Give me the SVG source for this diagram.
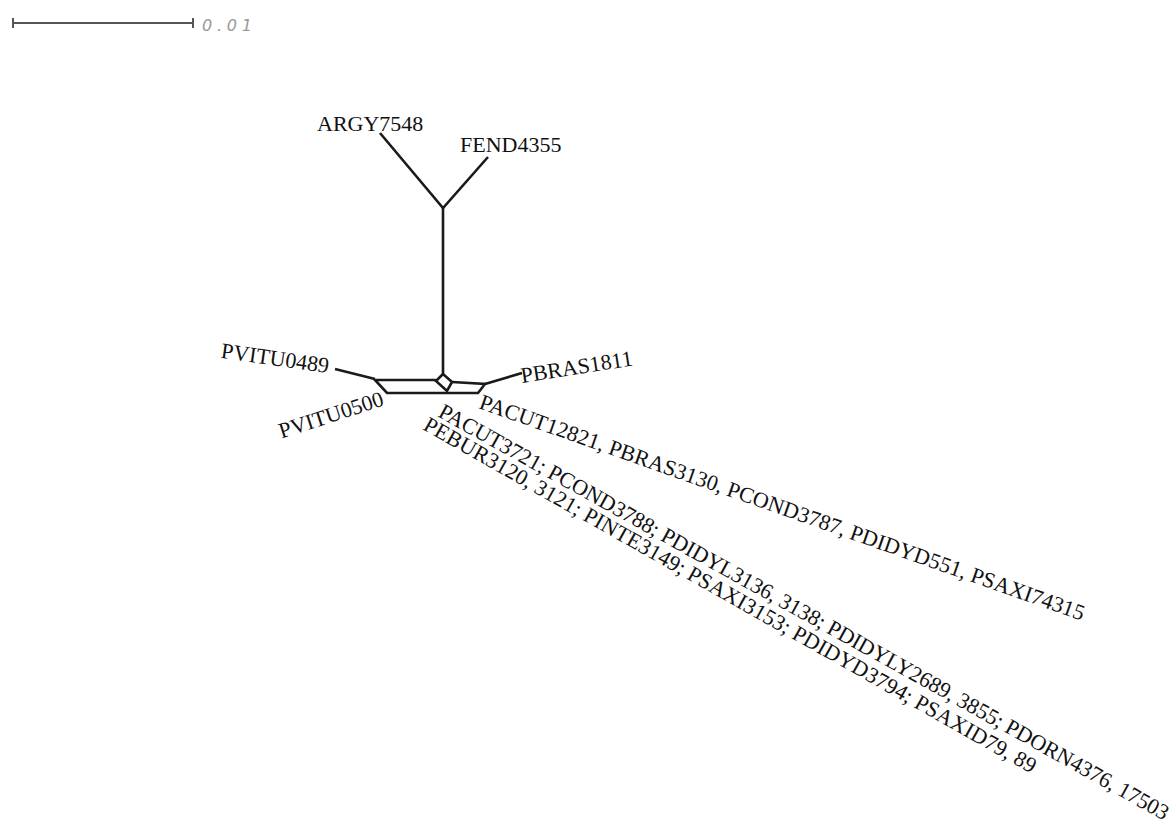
<svg xmlns="http://www.w3.org/2000/svg" width="1174" height="832" viewBox="0 0 1174 832">
<style>
.e{stroke:#1a1a1a;stroke-width:2.6;fill:none;stroke-linejoin:miter;stroke-linecap:butt}
.t{font-family:"Liberation Serif","Times New Roman",serif;font-size:22px;fill:#111}
.sb{stroke:#555;stroke-width:2;fill:none}
.st{font-family:"DejaVu Sans","Liberation Sans",sans-serif;font-size:16px;font-style:italic;fill:#999}
</style>
<rect width="1174" height="832" fill="#fff"/>
<g id="scale">
<path class="sb" d="M13 23H193M13 18V28M193 18V28"/>
<text class="st" x="202" y="31" textLength="50" lengthAdjust="spacing">0.01</text>
</g>
<g id="connectors">
<path class="e" d="M380 133L443 208L488 157"/>
<path class="e" d="M443 208V374"/>
<path class="e" d="M443 374L436 381L447 391L452 382Z"/>
<path class="e" d="M436 380H375L387 393H478L485 384L452 382"/>
<path class="e" d="M335 369L375 379"/>
<path class="e" d="M485 384L522 373"/>
</g>
<g id="n-argy"><text class="t" x="317" y="131">ARGY7548</text></g>
<g id="n-fend"><text class="t" x="460" y="152">FEND4355</text></g>
<g id="n-pvitu0489"><text class="t" text-anchor="end" transform="translate(328 373) rotate(8)">PVITU0489</text></g>
<g id="n-pvitu0500"><text class="t" text-anchor="end" transform="translate(385 405) rotate(-18)">PVITU0500</text></g>
<g id="n-pbras1811"><text class="t" transform="translate(522 383) rotate(-9)">PBRAS1811</text></g>
<g id="n-pacut12821"><text class="t" transform="translate(478 408) rotate(19.4)" textLength="640" lengthAdjust="spacing">PACUT12821, PBRAS3130, PCOND3787, PDIDYD551, PSAXI74315</text></g>
<g id="n-pacut3721"><text class="t" transform="translate(437 416) rotate(29.1)" textLength="832" lengthAdjust="spacing">PACUT3721; PCOND3788; PDIDYL3136, 3138; PDIDYLY2689, 3855; PDORN4376, 17503</text></g>
<g id="n-pebur3120"><text class="t" transform="translate(422 429) rotate(29.5)" textLength="700" lengthAdjust="spacing">PEBUR3120, 3121; PINTE3149; PSAXI3153; PDIDYD3794; PSAXID79, 89</text></g>
</svg>
